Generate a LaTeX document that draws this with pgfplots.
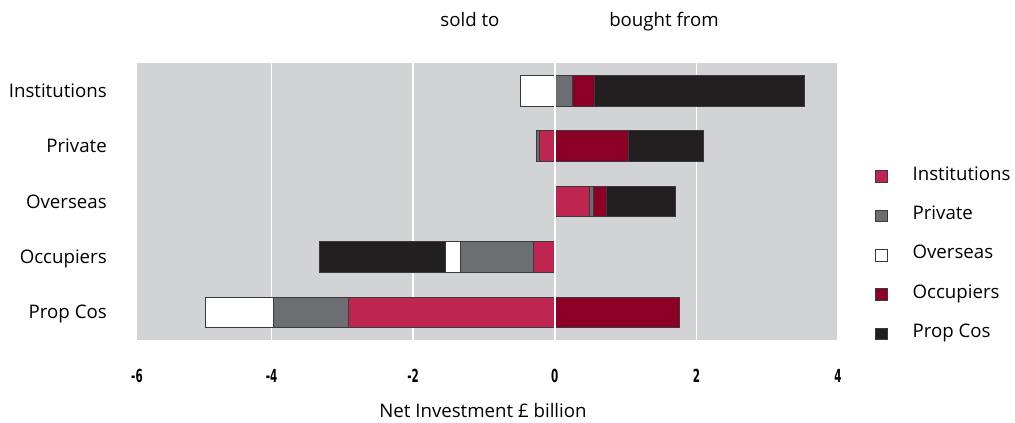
\documentclass[border=0pt]{standalone}
\usepackage{fontspec}
\usepackage{graphicx}
\usepackage{pgfplots}
\pgfplotsset{compat=1.18}
\setmainfont{Open Sans}
\newfontfamily\tickfont{DejaVu Sans Condensed}
\definecolor{cInst}{HTML}{BF2551}
\definecolor{cPriv}{HTML}{6D6E71}
\definecolor{cOcc}{HTML}{8B0024}
\definecolor{cProp}{HTML}{231F20}
\definecolor{bgc}{HTML}{D1D3D4}
\definecolor{edge}{HTML}{3A3A3C}
\newcommand\tl[1]{\scalebox{0.64}[1]{\tickfont\bfseries #1}}
\pgfplotsset{
  base/.style={
    at={(102.75pt,62.25pt)}, anchor=south west, scale only axis,
    width=525.75pt, height=207.75pt,
    xmin=-5.9, xmax=4, ymin=-0.5, ymax=4.5,
    xbar stacked, bar width=0.55,
    every axis plot/.append style={draw=edge, line width=0.55pt},
  }
}
\begin{document}
\begin{tikzpicture}
\path[use as bounding box] (0,0) rectangle (761.25pt,317.25pt);
\begin{axis}[base,
  axis background/.style={fill=bgc},
  axis line style={draw=none},
  tick style={draw=none},
  xmajorgrids, major grid style={white, line width=1pt},
  xtick={-4,-2,0,2,4}, xticklabels={\tl{-4},\tl{-2},\tl{0},\tl{2},\tl{4}},
  extra x ticks={-5.9}, extra x tick labels={\tl{-6}}, extra x tick style={grid=none},
  xticklabel style={anchor=north, inner sep=0pt, yshift=-21.5pt, font=\fontsize{13.5}{15}\selectfont},
  ytick={0,1,2,3,4}, yticklabels={Prop Cos,Occupiers,Overseas,Private,Institutions},
  yticklabel style={anchor=east, inner sep=0pt, xshift=-22.5pt, text height=10pt, text depth=0pt, font=\fontsize{14}{17}\selectfont},
]
\addplot[fill=cInst] coordinates {(-2.91,0) (-0.30,1) (0,2) (-0.22,3) (0,4)};
\addplot[fill=cPriv] coordinates {(-1.06,0) (-1.03,1) (0,2) (-0.04,3) (0,4)};
\addplot[fill=white] coordinates {(-0.96,0) (-0.22,1) (0,2) (0,3) (-0.48,4)};
\addplot[fill=cProp] coordinates {(0,0) (-1.77,1) (0,2) (0,3) (0,4)};
\end{axis}
\begin{axis}[base,
  axis x line=none, axis y line=center,
  y axis line style={white, line width=1.5pt},
  every inner y axis line/.append style={-},
  ytick={-0.5,0.5,1.5,2.5,3.5}, yticklabels={},
  ytick pos=left, tick align=outside, major tick length=6pt,
  y tick style={white, line width=1pt},
  axis on top,
  legend style={at={(1.0528,0.6257)}, anchor=north west, draw=none, fill=none,
    inner sep=0pt, row sep=16.5pt, column sep=18.75pt,
    nodes={inner sep=0pt, text height=10pt, text depth=3pt, font=\fontsize{14}{17}\selectfont}},
  legend cell align=left,
  legend image code/.code={\draw[#1] (0pt,-5pt) rectangle (8.75pt,3.75pt);},
]
\addlegendimage{fill=cInst, draw=edge, line width=0.5pt}
\addlegendimage{fill=cPriv, draw=edge, line width=0.5pt}
\addlegendimage{fill=white, draw=edge, line width=0.5pt}
\addlegendimage{fill=cOcc, draw=edge, line width=0.5pt}
\addlegendimage{fill=cProp, draw=edge, line width=0.5pt}
\legend{Institutions,Private,Overseas,Occupiers,Prop Cos}
\addplot[fill=cInst] coordinates {(0,0) (0,1) (0.49,2) (0,3) (0,4)};
\addplot[fill=cPriv] coordinates {(0,0) (0,1) (0.05,2) (0,3) (0.25,4)};
\addplot[fill=cOcc] coordinates {(1.76,0) (0,1) (0.19,2) (1.04,3) (0.31,4)};
\addplot[fill=cProp] coordinates {(0,0) (0,1) (0.98,2) (1.06,3) (2.96,4)};
\end{axis}
\node[anchor=base, font=\fontsize{14}{17}\selectfont] at (352.5pt,297pt) {sold to};
\node[anchor=base, font=\fontsize{14}{17}\selectfont] at (498pt,297pt) {bought from};
\node[anchor=base, font=\fontsize{14}{17}\selectfont] at (362.25pt,4pt) {Net Investment £ billion};
\end{tikzpicture}
\end{document}
